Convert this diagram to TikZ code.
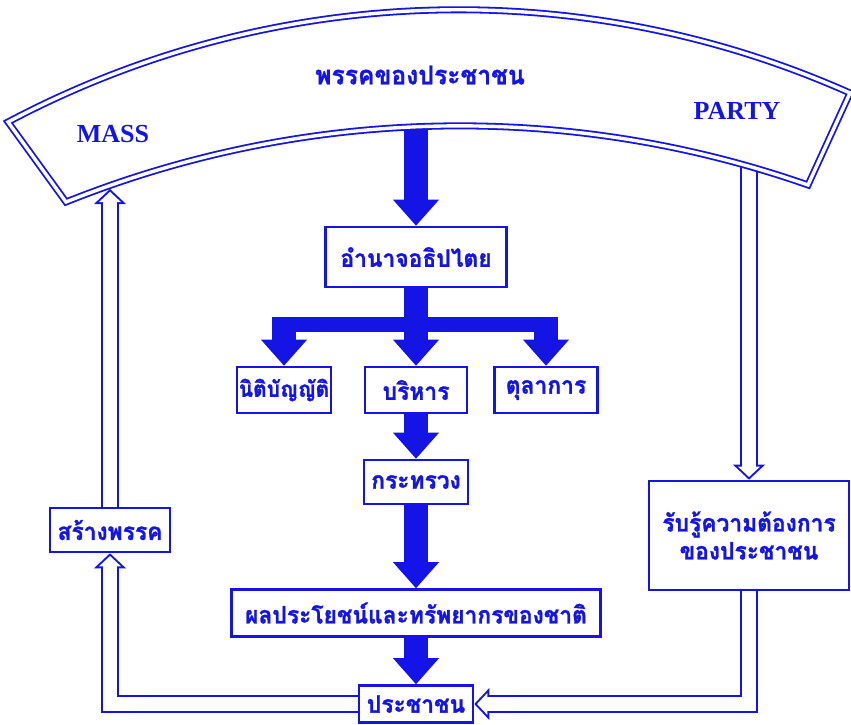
\documentclass[tikz,border=0pt]{standalone}
\usepackage{fontspec}
\newfontfamily\thaifont[Script=Thai,FakeStretch=0.95,FakeBold=1.2]{Loma}
\newfontfamily\latinfont{Liberation Serif}
\usetikzlibrary{calc,arrows.meta}
\definecolor{inkblue}{RGB}{20,20,228}
\tikzset{
	box/.style={draw=inkblue,line width=2.6pt,fill=white,text=inkblue,inner sep=0pt,align=center,
		font=\thaifont\bfseries\fontsize{24}{28}\selectfont},
	lbl/.style={text=inkblue,inner sep=0pt},
	trunk/.style={draw=inkblue,line width=24pt},
	barline/.style={draw=inkblue,line width=15pt},
	fat/.style={trunk,-{Triangle[width=46pt,length=26pt,line width=0pt]}},
	hollowout/.style={draw=inkblue,line width=18pt,-{Triangle[width=32pt,length=15pt,line width=0pt]}},
	hollowin/.style={draw=white,line width=14pt,shorten >=2.74pt,-{Triangle[width=21.9pt,length=10.26pt,line width=0pt]}}
}
\begin{document}
\begin{tikzpicture}[x=1pt,y=-1pt]
	\path[use as bounding box] (0,0) rectangle (851,725);
	\clip (0,0) rectangle (851,725);
	\fill[white] (0,0) rectangle (851,725);

	% boxes
	\node[box,minimum width=181pt,minimum height=60pt] (sov) at (416,257) {อำนาจอธิปไตย};
	\node[box,minimum width=94pt,minimum height=46pt,font=\thaifont\bfseries\fontsize{22}{27}\selectfont] (leg) at (284,390) {นิติบัญญัติ};
	\node[box,minimum width=102pt,minimum height=46pt] (bri) at (416,390) {บริหาร};
	\node[box,minimum width=103pt,minimum height=46pt] (tul) at (546,390) {ตุลาการ};
	\node[box,minimum width=104pt,minimum height=44pt] (kra) at (416,482) {กระทรวง};
	\node[box,minimum width=369pt,minimum height=47pt] (pho) at (416,613) {ผลประโยชน์และทรัพยากรของชาติ};
	\node[box,minimum width=114pt,minimum height=37pt] (pra) at (416,704) {ประชาชน};
	\node[box,minimum width=120pt,minimum height=44pt] (sar) at (110,530) {สร้างพรรค};
	\node[box,minimum width=200pt,minimum height=109pt] (rub) at (749,535.5) {รับรู้ความต้องการ\\ของประชาชน};

	\coordinate (bandM) at (416,118);
	\coordinate (bandL) at (110,189);
	\coordinate (bandR) at (749,158);
	\coordinate (bar) at (416,324.5);

	% feedback loop
	\draw[hollowout] (pra.west) -| (sar.south);
	\draw[hollowin] (pra.west) -| (sar.south);
	\draw[hollowout] (sar.north) -- (bandL);
	\draw[hollowin] (sar.north) -- (bandL);
	\draw[hollowout] (bandR) -- (rub.north);
	\draw[hollowin] (bandR) -- (rub.north);
	\draw[hollowout] (rub.south) |- (pra.east);
	\draw[hollowin] (rub.south) |- (pra.east);

	% power flow
	\draw[fat] (bandM) -- (sov.north);
	\draw[trunk] (sov.south) -- (sov.south |- bar);
	\draw[barline] ($(bar -| leg.north)+(-12,0)$) -- ($(bar -| tul.north)+(12,0)$);
	\foreach \b in {leg,bri,tul}
		\draw[fat] (bar -| \b.north) -- (\b.north);
	\draw[fat] (bri.south) -- (kra.north);
	\draw[fat] (kra.south) -- (pho.north);
	\draw[fat] (pho.south) -- (pra.north);

	% the party band
	\draw[inkblue,line width=1.8pt,double=white,double distance=3.4pt,fill=white]
		(8,122) .. controls (269.4,-16.7) and (579.7,-27.4) .. (850,93)
		-- (808,185) .. controls (566.7,100.6) and (303.2,106.8) .. (66,202) -- cycle;
	\node[lbl,font=\thaifont\bfseries\fontsize{26}{30}\selectfont] (party-th) at (420,75) {พรรคของประชาชน};
	\node[lbl,font=\latinfont\bfseries\fontsize{26}{30}\selectfont] (mass) at (113,134) {MASS};
	\node[lbl,font=\latinfont\bfseries\fontsize{26}{30}\selectfont] (party) at (737,111) {PARTY};
\end{tikzpicture}
\end{document}
